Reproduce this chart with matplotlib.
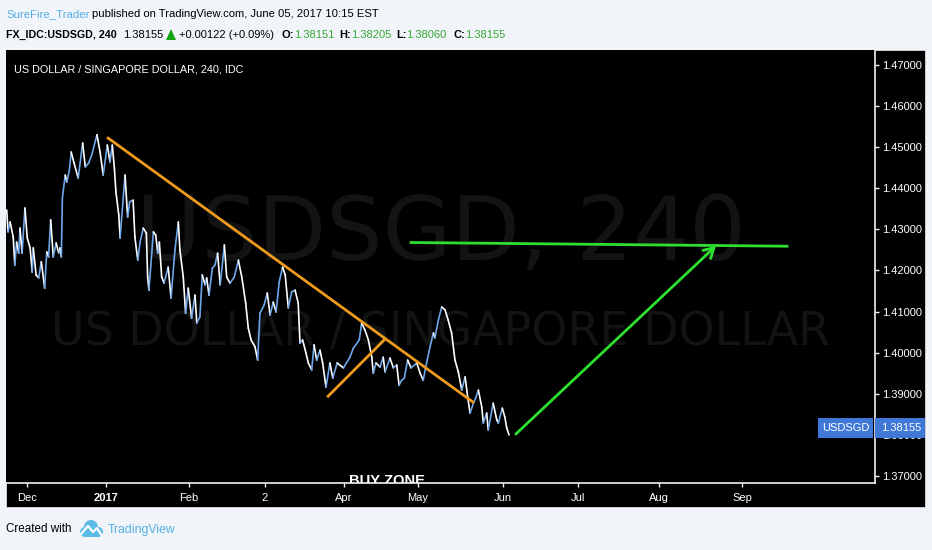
import matplotlib
matplotlib.use('Agg')
import matplotlib.pyplot as plt
from matplotlib.patches import Circle, Polygon, Rectangle
from matplotlib.transforms import IdentityTransform

# dias desde el 1 de diciembre de 2016 y precio
days = [-7.8, -7.3, -6.5, -5.3, -4.7, -4.0, -3.2, -2.7, -1.9, -0.8, 0.1, 1.2, 2.0, 2.4, 3.5, 4.5, 5.5, 6.8,
        7.6, 8.3, 9.1, 10.1, 11.2, 12.2, 12.7, 13.2, 13.6, 14.7, 15.3, 16.3, 17.0, 18.1, 19.7, 21.4, 22.4,
        23.7, 24.9, 26.9, 28.1, 29.3, 30.9, 31.9, 32.8, 33.6, 34.2, 35.3, 35.8, 37.7, 38.7, 39.5, 40.8,
        41.5, 42.6, 43.5, 44.7, 45.9, 46.4, 46.9, 48.6, 49.5, 50.3, 50.9, 51.8, 52.7, 54.3, 55.4, 56.9,
        58.2, 58.8, 60.1, 61.0, 62.0, 63.3, 64.6, 65.3, 66.5, 67.4, 68.5, 69.1, 70.0, 71.3, 72.3, 73.3,
        74.3, 75.9, 76.8, 78.1, 79.7, 81.3, 82.6, 84.1, 85.1, 86.2, 87.7, 88.7, 89.6, 91.2, 92.4, 93.5,
        94.7, 95.8, 97.0, 98.3, 99.3, 100.5, 101.8, 103.1, 104.3, 105.0, 106.0, 107.3, 108.2, 109.5,
        110.4, 111.4, 112.7, 113.7, 115.0, 116.5, 117.6, 119.3, 121.7, 124.2, 125.5, 127.8, 128.7, 130.0,
        131.3, 132.6, 133.2, 134.2, 135.8, 137.0, 137.7, 139.6, 140.9, 142.2, 143.1, 144.1, 145.1, 146.4,
        147.7, 149.9, 151.2, 152.4, 153.3, 155.0, 156.3, 156.9, 158.2, 159.5, 160.8, 162.0, 163.3, 164.6,
        165.9, 167.2, 168.5, 169.5, 170.4, 171.7, 172.6, 173.6, 174.9, 175.5, 176.8, 177.4, 179.3, 180.7,
        181.3, 182.8, 183.8, 184.5, 185.4]
prices = [1.4347, 1.4294, 1.4318, 1.4281, 1.4213, 1.4269, 1.4242, 1.4303, 1.4242, 1.4352, 1.4279, 1.4255,
          1.4196, 1.4255, 1.4189, 1.4182, 1.4221, 1.4157, 1.4245, 1.4233, 1.4323, 1.4233, 1.4267, 1.4242,
          1.4255, 1.4233, 1.4376, 1.4432, 1.4415, 1.4444, 1.4488, 1.4461, 1.4425, 1.4510, 1.4452, 1.4461,
          1.4481, 1.4530, 1.4488, 1.4432, 1.4505, 1.4464, 1.4505, 1.4449, 1.4391, 1.4335, 1.4279, 1.4432,
          1.4330, 1.4367, 1.4371, 1.4281, 1.4225, 1.4269, 1.4303, 1.4291, 1.4184, 1.4152, 1.4294, 1.4286,
          1.4242, 1.4269, 1.4184, 1.4169, 1.4208, 1.4133, 1.4250, 1.4318, 1.4250, 1.4184, 1.4096, 1.4157,
          1.4084, 1.4140, 1.4072, 1.4087, 1.4189, 1.4165, 1.4182, 1.4140, 1.4206, 1.4213, 1.4242, 1.4165,
          1.4262, 1.4184, 1.4169, 1.4184, 1.4225, 1.4184, 1.4121, 1.4060, 1.4031, 1.4014, 1.3982, 1.4096,
          1.4116, 1.4145, 1.4092, 1.4123, 1.4099, 1.4172, 1.4208, 1.4189, 1.4109, 1.4148, 1.4152, 1.4121,
          1.4023, 1.4031, 1.3999, 1.3975, 1.3958, 1.4019, 1.3982, 1.4006, 1.3975, 1.3916, 1.3975, 1.3938,
          1.3975, 1.3963, 1.3989, 1.4011, 1.4031, 1.4072, 1.4055, 1.4031, 1.3989, 1.3950, 1.3975, 1.3965,
          1.3989, 1.3953, 1.3987, 1.3963, 1.3970, 1.3921, 1.3933, 1.3938, 1.3982, 1.3963, 1.3975, 1.3950,
          1.3933, 1.3963, 1.4014, 1.4048, 1.4036, 1.4079, 1.4111, 1.4104, 1.4079, 1.4048, 1.3982, 1.3953,
          1.3909, 1.3941, 1.3892, 1.3853, 1.3877, 1.3890, 1.3909, 1.3868, 1.3829, 1.3853, 1.3812, 1.3877,
          1.3836, 1.3829, 1.3865, 1.3843, 1.3817, 1.3800]

month_days = [0, 30.4, 62.3, 91.5, 121.9, 150.4, 183.1, 212, 243, 275]
month_labels = ['Dec', '2017', 'Feb', '2', 'Apr', 'May', 'Jun', 'Jul', 'Aug', 'Sep']
price_ticks = [1.37, 1.38, 1.39, 1.40, 1.41, 1.42, 1.43, 1.44, 1.45, 1.46, 1.47]

# lineas dibujadas sobre el grafico
trend_x = [31.2, 171.5]
trend_y = [1.4522, 1.3880]
channel_x = [115.8, 137.7]
channel_y = [1.3894, 1.4033]
target_x = [147.7, 292.3]
target_y = [1.4268, 1.4259]
arrow_x = [188.0, 265.0]
arrow_y = [1.3802, 1.4260]

W, H = 932, 550
FONT = 'Liberation Sans'
BG = '#f1f4f9'
ORANGE = '#ee9a1c'
GREEN = '#2ee02e'
PRICE_GREEN = '#35a835'
LINK = '#55b0e4'
TAG = '#3f78d6'

fig = plt.figure(figsize=(W / 100, H / 100), dpi=100, facecolor=BG)
px = IdentityTransform()


def txt(x, y, s, size=8.2, color='black', weight='normal', ha='left'):
    # x, y en pixeles de la imagen
    fig.text(x / W, 1 - y / H, s, fontsize=size, color=color, fontweight=weight, ha=ha, va='center',
             family=FONT)


# panel negro completo, incluidos los ejes
fig.add_artist(Rectangle((6, H - 507), 919, 457, transform=px, facecolor='black', edgecolor='#dddddd',
                         linewidth=0.6, zorder=-1))

ax = fig.add_axes([6 / W, 1 - 483 / H, 869 / W, 433 / H], facecolor='black')
ax.set_xlim(-8.08, 326.15)
ax.set_ylim(1.3683, 1.47363)

ax.text(0.5, 1.4284, 'USDSGD, 240', color='#131313', fontsize=64, ha='center', va='center', zorder=1,
        transform=ax.get_yaxis_transform(), family='DejaVu Sans')
ax.text(0.5, 1.4050, 'US DOLLAR / SINGAPORE DOLLAR', color='#131313', fontsize=33, ha='center', va='center',
        zorder=1, transform=ax.get_yaxis_transform(), family='DejaVu Sans')

# tramos que suben en azul, los que bajan en blanco
for i in range(len(days) - 1):
    c = '#6ea6ea' if prices[i + 1] > prices[i] else '#ffffff'
    ax.plot(days[i:i + 2], prices[i:i + 2], color=c, linewidth=1.2, zorder=2, solid_capstyle='round')

ax.plot(trend_x, trend_y, color=ORANGE, linewidth=2, zorder=3)
ax.plot(channel_x, channel_y, color=ORANGE, linewidth=2, zorder=3)
ax.plot(target_x, target_y, color=GREEN, linewidth=2, zorder=3)
ax.annotate('', xy=(arrow_x[1], arrow_y[1]), xytext=(arrow_x[0], arrow_y[0]), zorder=3,
            arrowprops=dict(arrowstyle='->,head_length=0.7,head_width=0.4', color=GREEN, lw=2,
                            shrinkA=0, shrinkB=0))

ax.text(138.6, 1.3688, 'BUY ZONE', color='white', fontsize=10.6, fontweight='bold', ha='center', va='center',
        family=FONT, clip_on=True)

for side in ['top', 'left']:
    ax.spines[side].set_visible(False)
for side in ['right', 'bottom']:
    ax.spines[side].set_color('#f2f2f2')
    ax.spines[side].set_linewidth(1.2)

ax.yaxis.tick_right()
ax.set_yticks(price_ticks)
ax.set_yticklabels(['%.5f' % p for p in price_ticks], family=FONT, fontsize=8.0, color='white')
ax.set_xticks(month_days)
ax.set_xticklabels(month_labels, family=FONT, fontsize=8.0, color='white')
ax.get_xticklabels()[1].set_fontweight('bold')
ax.tick_params(axis='y', color='#f2f2f2', length=3, width=1, pad=2)
ax.tick_params(axis='x', color='#f2f2f2', length=3, width=1, pad=4)

txt(14, 70, 'US DOLLAR / SINGAPORE DOLLAR, 240, IDC', size=7.8, color='white')

# etiqueta del ultimo precio
fig.add_artist(Rectangle((818, H - 438), 55, 20, transform=px, facecolor=TAG, edgecolor='none', zorder=2))
fig.add_artist(Rectangle((875, H - 438), 50, 20, transform=px, facecolor=TAG, edgecolor='none', zorder=2))
txt(845.5, 428, 'USDSGD', size=8.0, color='white', ha='center')
txt(881, 428, '1.38155', size=8.0, color='white')

# cabecera
txt(6, 14, 'SureFire_Trader', size=8.2, color=LINK)
txt(92, 14, 'published on TradingView.com, June 05, 2017 10:15 EST', size=8.1)
txt(6, 35, 'FX_IDC:USDSGD, 240', size=7.7, weight='bold')
txt(123, 35, '1.38155', size=8.0)
fig.add_artist(Polygon([(166, H - 40), (176, H - 40), (171, H - 29)], transform=px, facecolor='#12a512',
                       edgecolor='none'))
txt(179, 35, '+0.00122 (+0.09%)', size=8.0)
for x, s in zip([282, 339, 396, 453], ['O:', 'H:', 'L:', 'C:']):
    txt(x, 35, s, size=8.0, weight='bold')
for x, s in zip([294, 351, 406, 465], ['1.38151', '1.38205', '1.38060', '1.38155']):
    txt(x, 35, s, size=8.0, color=PRICE_GREEN)

# pie con el logo
txt(6, 529, 'Created with', size=8.4)
txt(108, 530, 'TradingView', size=8.8, color=LINK)
for cx, cy, r in [(85, 532, 5), (91, 527, 7), (98, 532, 5)]:
    fig.add_artist(Circle((cx, H - cy), r, transform=px, facecolor='#5dbbe8', edgecolor='none'))
fig.add_artist(Rectangle((85, H - 537), 13, 6, transform=px, facecolor='#5dbbe8', edgecolor='none'))
fig.add_artist(plt.Line2D([81, 88, 93, 97, 102], [H - 534, H - 526, H - 532, H - 528, H - 536], transform=px,
                          color='white', linewidth=1.6))

fig.savefig('out.png', dpi=100, facecolor=BG)
